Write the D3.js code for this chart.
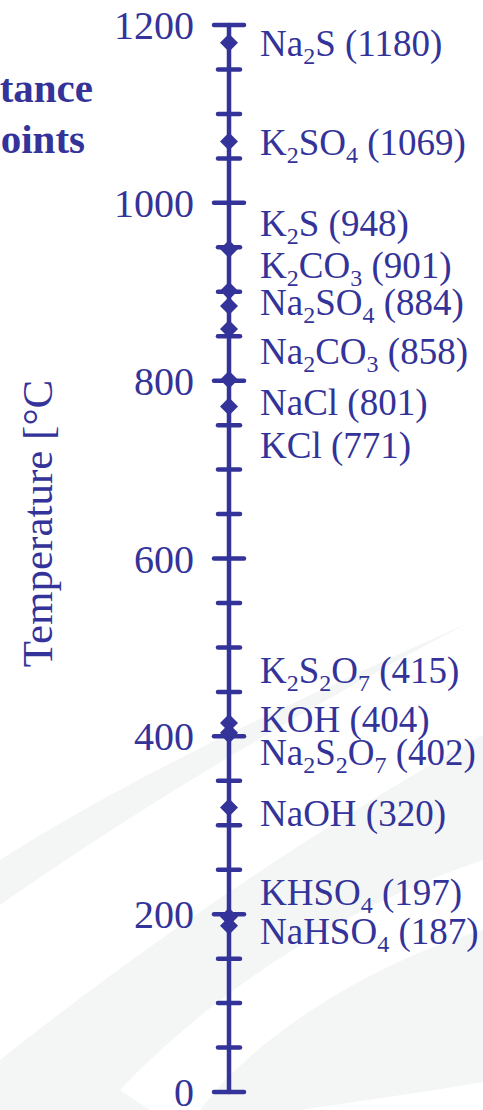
<!DOCTYPE html>
<html>
<head>
<meta charset="utf-8">
<script src="https://cdn.jsdelivr.net/npm/d3@7/dist/d3.min.js"></script>
<style>
  html, body { margin: 0; padding: 0; background: #ffffff; }
  svg { display: block; }
  svg text { font-family: "Liberation Serif", "Times New Roman", serif; }
</style>
</head>
<body>
<script>
// ---------- data ----------
const compounds = ["Na_2S", "K_2SO_4", "K_2S", "K_2CO_3", "Na_2SO_4", "Na_2CO_3", "NaCl", "KCl",
                   "K_2S_2O_7", "KOH", "Na_2S_2O_7", "NaOH", "KHSO_4", "NaHSO_4"];
const meltingPoints = [1180, 1069, 948, 901, 884, 858, 801, 771, 415, 404, 402, 320, 197, 187];
const majorTicks = [0, 200, 400, 600, 800, 1000, 1200];
const minorTicks = [50, 100, 150, 250, 300, 350, 450, 500, 550, 650, 700, 750, 850, 900, 950, 1050, 1100, 1150];
const axisTitle = "Temperature [°C";
const titleFragments = ["tance", "oints"];

// ---------- layout ----------
const W = 483, H = 1110;
const blue = "#333399";
const axisX = 229;
const serif = "'Liberation Serif', 'Times New Roman', serif";
// label vertical nudges (px) relative to each marker, to keep labels apart
const labelNudge = [1, 1.5, -25, -25, -3, 23, 23, 39.5, -52, -13, 18, 7, -24, 6];

const svg = d3.select("body").append("svg").attr("width", W).attr("height", H);

// decorative background swooshes
const bg = svg.append("g");
bg.append("path").attr("fill", "#f4f6f6")
  .attr("d", "M0,905 C150,800 320,700 470,622 C320,690 140,770 0,860 Z");
bg.append("path").attr("fill", "#f4f6f6")
  .attr("d", "M0,1110 L0,1060 C150,940 330,820 483,735 L483,1110 Z");
bg.append("path").attr("fill", "#ffffff")
  .attr("d", "M120,1090 C220,985 350,905 483,860 L483,930 C380,960 260,1030 200,1110 L150,1110 Z");
bg.append("path").attr("fill", "#ffffff")
  .attr("d", "M300,1110 C380,1098 440,1090 483,1082 L483,1110 Z");

const y = d3.scaleLinear().domain([0, 1200]).range([1092, 25]);

// axis line
svg.append("line")
  .attr("x1", axisX).attr("x2", axisX)
  .attr("y1", y(0)).attr("y2", y(1200))
  .attr("stroke", blue).attr("stroke-width", 4.5).attr("stroke-linecap", "round");

// minor ticks
svg.append("g").selectAll("line").data(minorTicks).join("line")
  .attr("x1", axisX - 11).attr("x2", axisX + 11)
  .attr("y1", d => y(d)).attr("y2", d => y(d))
  .attr("stroke", blue).attr("stroke-width", 4.5).attr("stroke-linecap", "round");

// major ticks
svg.append("g").selectAll("line").data(majorTicks).join("line")
  .attr("x1", axisX - 15).attr("x2", axisX + 15)
  .attr("y1", d => y(d)).attr("y2", d => y(d))
  .attr("stroke", blue).attr("stroke-width", 4.5).attr("stroke-linecap", "round");

// tick labels through d3 axis
const axisG = svg.append("g").attr("transform", `translate(${axisX},0)`)
  .call(d3.axisLeft(y).tickValues(majorTicks).tickSize(0).tickPadding(35).tickFormat(d3.format("d")));
axisG.attr("font-family", serif);
axisG.select(".domain").remove();
axisG.selectAll("text")
  .attr("fill", blue)
  .attr("font-family", serif)
  .attr("font-size", 40)
  .attr("dy", "0.34em");

// diamond markers
const dm = 9;
svg.append("g").selectAll("path").data(meltingPoints).join("path")
  .attr("transform", d => `translate(${axisX},${y(d)})`)
  .attr("d", `M0,${-dm} L${dm},0 L0,${dm} L${-dm},0 Z`)
  .attr("fill", blue);

// labels with subscripts
const labels = svg.append("g").attr("font-family", serif);
compounds.forEach((c, i) => {
  const t = labels.append("text")
    .attr("x", 260)
    .attr("y", y(meltingPoints[i]) + labelNudge[i] + 12)
    .attr("fill", blue)
    .attr("font-family", serif)
    .attr("font-size", 37);
  const parts = c.split(/(_\d)/).filter(p => p.length);
  let shifted = false;
  parts.forEach(p => {
    if (p.startsWith("_")) {
      t.append("tspan").attr("font-size", 24).attr("dy", 8).text(p.slice(1));
      shifted = true;
    } else {
      const s = t.append("tspan").text(p);
      if (shifted) { s.attr("dy", -8); shifted = false; }
    }
  });
  const tail = t.append("tspan").text(" (" + meltingPoints[i] + ")");
  if (shifted) tail.attr("dy", -8);
});

// axis title (rotated)
svg.append("text")
  .attr("transform", `translate(52,${(380 + 667) / 2}) rotate(-90)`)
  .attr("text-anchor", "middle")
  .attr("fill", blue)
  .attr("font-family", serif)
  .attr("font-size", 43)
  .text(axisTitle);

// partially visible bold title
svg.append("text").attr("x", 93).attr("y", 102).attr("text-anchor", "end")
  .attr("fill", blue).attr("font-family", serif).attr("font-size", 41).attr("font-weight", "bold").text(titleFragments[0]);
svg.append("text").attr("x", 85).attr("y", 153).attr("text-anchor", "end")
  .attr("fill", blue).attr("font-family", serif).attr("font-size", 41).attr("font-weight", "bold").text(titleFragments[1]);
</script>
</body>
</html>
